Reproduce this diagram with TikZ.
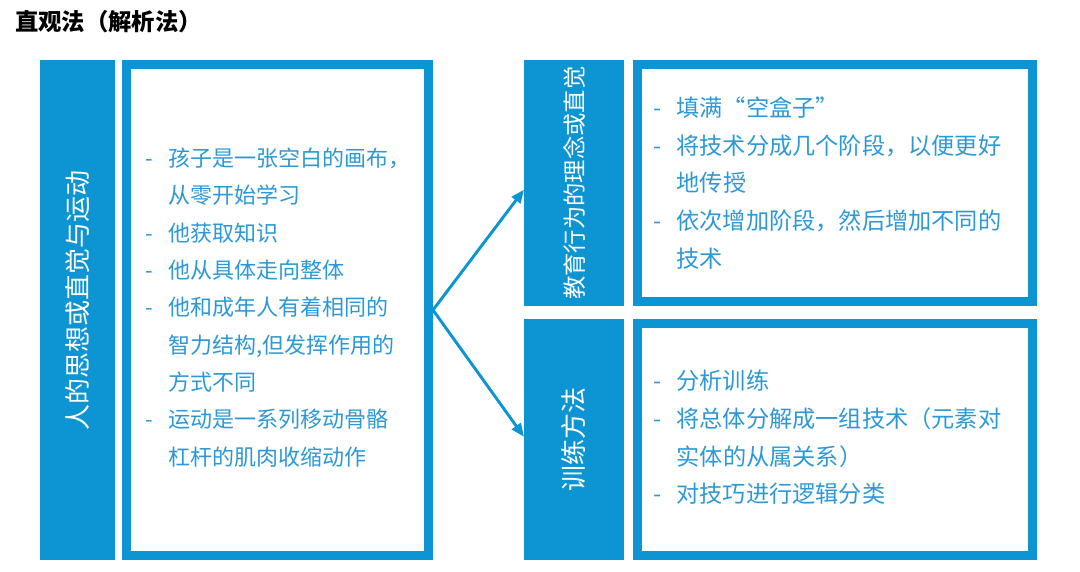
\documentclass[tikz,border=0pt]{standalone}
\usepackage{fontspec}
\setmainfont{Noto Sans CJK SC}
\usetikzlibrary{positioning,arrows.meta,calc}
\definecolor{BarBlue}{RGB}{12,148,211}
\definecolor{ItemBlue}{RGB}{44,153,214}
\newcommand{\itm}[1]{\makebox[17.5pt][l]{-}#1}
\newcommand{\cnt}[1]{\hspace*{17.5pt}#1}
\tikzset{
  flow/.style={-{Triangle[length=10pt,width=8pt]},line width=2.2pt,draw=BarBlue},
  bar/.style={fill=BarBlue,inner sep=0pt,outer sep=0pt},
  frame/.style={draw=BarBlue,line width=7pt,inner sep=0pt},
  barlabel/.style={text=white,rotate=90,inner sep=0pt},
  items/.style={text=ItemBlue,align=left,inner sep=0pt,anchor=west,
    font=\fontsize{16.5pt}{28pt}\selectfont},
  bigitems/.style={items,font=\fontsize{17.4pt}{28.2pt}\selectfont}
}
\begin{document}
\begin{tikzpicture}[x=0.75pt,y=-0.75pt]
  \useasboundingbox[fill=white] (0,0) rectangle (1080,571);
  \node[anchor=west,inner sep=0pt,font=\fontsize{17.5pt}{20pt}\selectfont\bfseries] (title) at (15,22) {直观法（解析法）};
  % left column
  \node[bar,anchor=north west,minimum width=56.25pt,minimum height=375pt] (leftbar) at (40,60) {};
  \node[frame,right=5.25pt of leftbar,minimum width=226.25pt,minimum height=368pt] (leftframe) {};
  \node[barlabel,font=\fontsize{19.5pt}{20pt}\selectfont] (leftlabel) at ([yshift=7pt]leftbar.center) {人的思想或直觉与运动};
  \node[items] (leftitems) at ([xshift=17.25pt,yshift=2pt]leftframe.west) {
    \itm{孩子是一张空白的画布，}\\
    \cnt{从零开始学习}\\
    \itm{他获取知识}\\
    \itm{他从具体走向整体}\\
    \itm{他和成年人有着相同的}\\
    \cnt{智力结构,但发挥作用的}\\
    \cnt{方式不同}\\
    \itm{运动是一系列移动骨骼}\\
    \cnt{杠杆的肌肉收缩动作}};
  % right column
  \node[bar,anchor=north west,minimum width=75pt,minimum height=184.5pt] (upbar) at (524,60) {};
  \node[bar,below=9.75pt of upbar,minimum width=75pt,minimum height=180.75pt] (lowbar) {};
  \node[frame,right=6.75pt of upbar,minimum width=296pt,minimum height=177.5pt] (upframe) {};
  \node[frame,right=6.75pt of lowbar,minimum width=296pt,minimum height=173.75pt] (lowframe) {};
  \node[barlabel,font=\fontsize{17.5pt}{18pt}\selectfont] (uplabel) at (upbar.center) {教育行为的理念或直觉};
  \node[barlabel,font=\fontsize{19.5pt}{20pt}\selectfont] (lowlabel) at (lowbar.center) {训练方法};
  \node[bigitems] (upitems) at ([xshift=15pt]upframe.west) {
    \itm{填满“空盒子”}\\
    \itm{将技术分成几个阶段，以便更好}\\
    \cnt{地传授}\\
    \itm{依次增加阶段，然后增加不同的}\\
    \cnt{技术}};
  \node[bigitems] (lowitems) at ([xshift=15pt,yshift=1.5pt]lowframe.west) {
    \itm{分析训练}\\
    \itm{将总体分解成一组技术（元素对}\\
    \cnt{实体的从属关系）}\\
    \itm{对技巧进行逻辑分类}};
  \draw[flow] (leftframe.east) -- ([yshift=-5pt]upbar.west);
  \draw[flow] (leftframe.east) -- ([yshift=2pt]lowbar.west);
\end{tikzpicture}
\end{document}
